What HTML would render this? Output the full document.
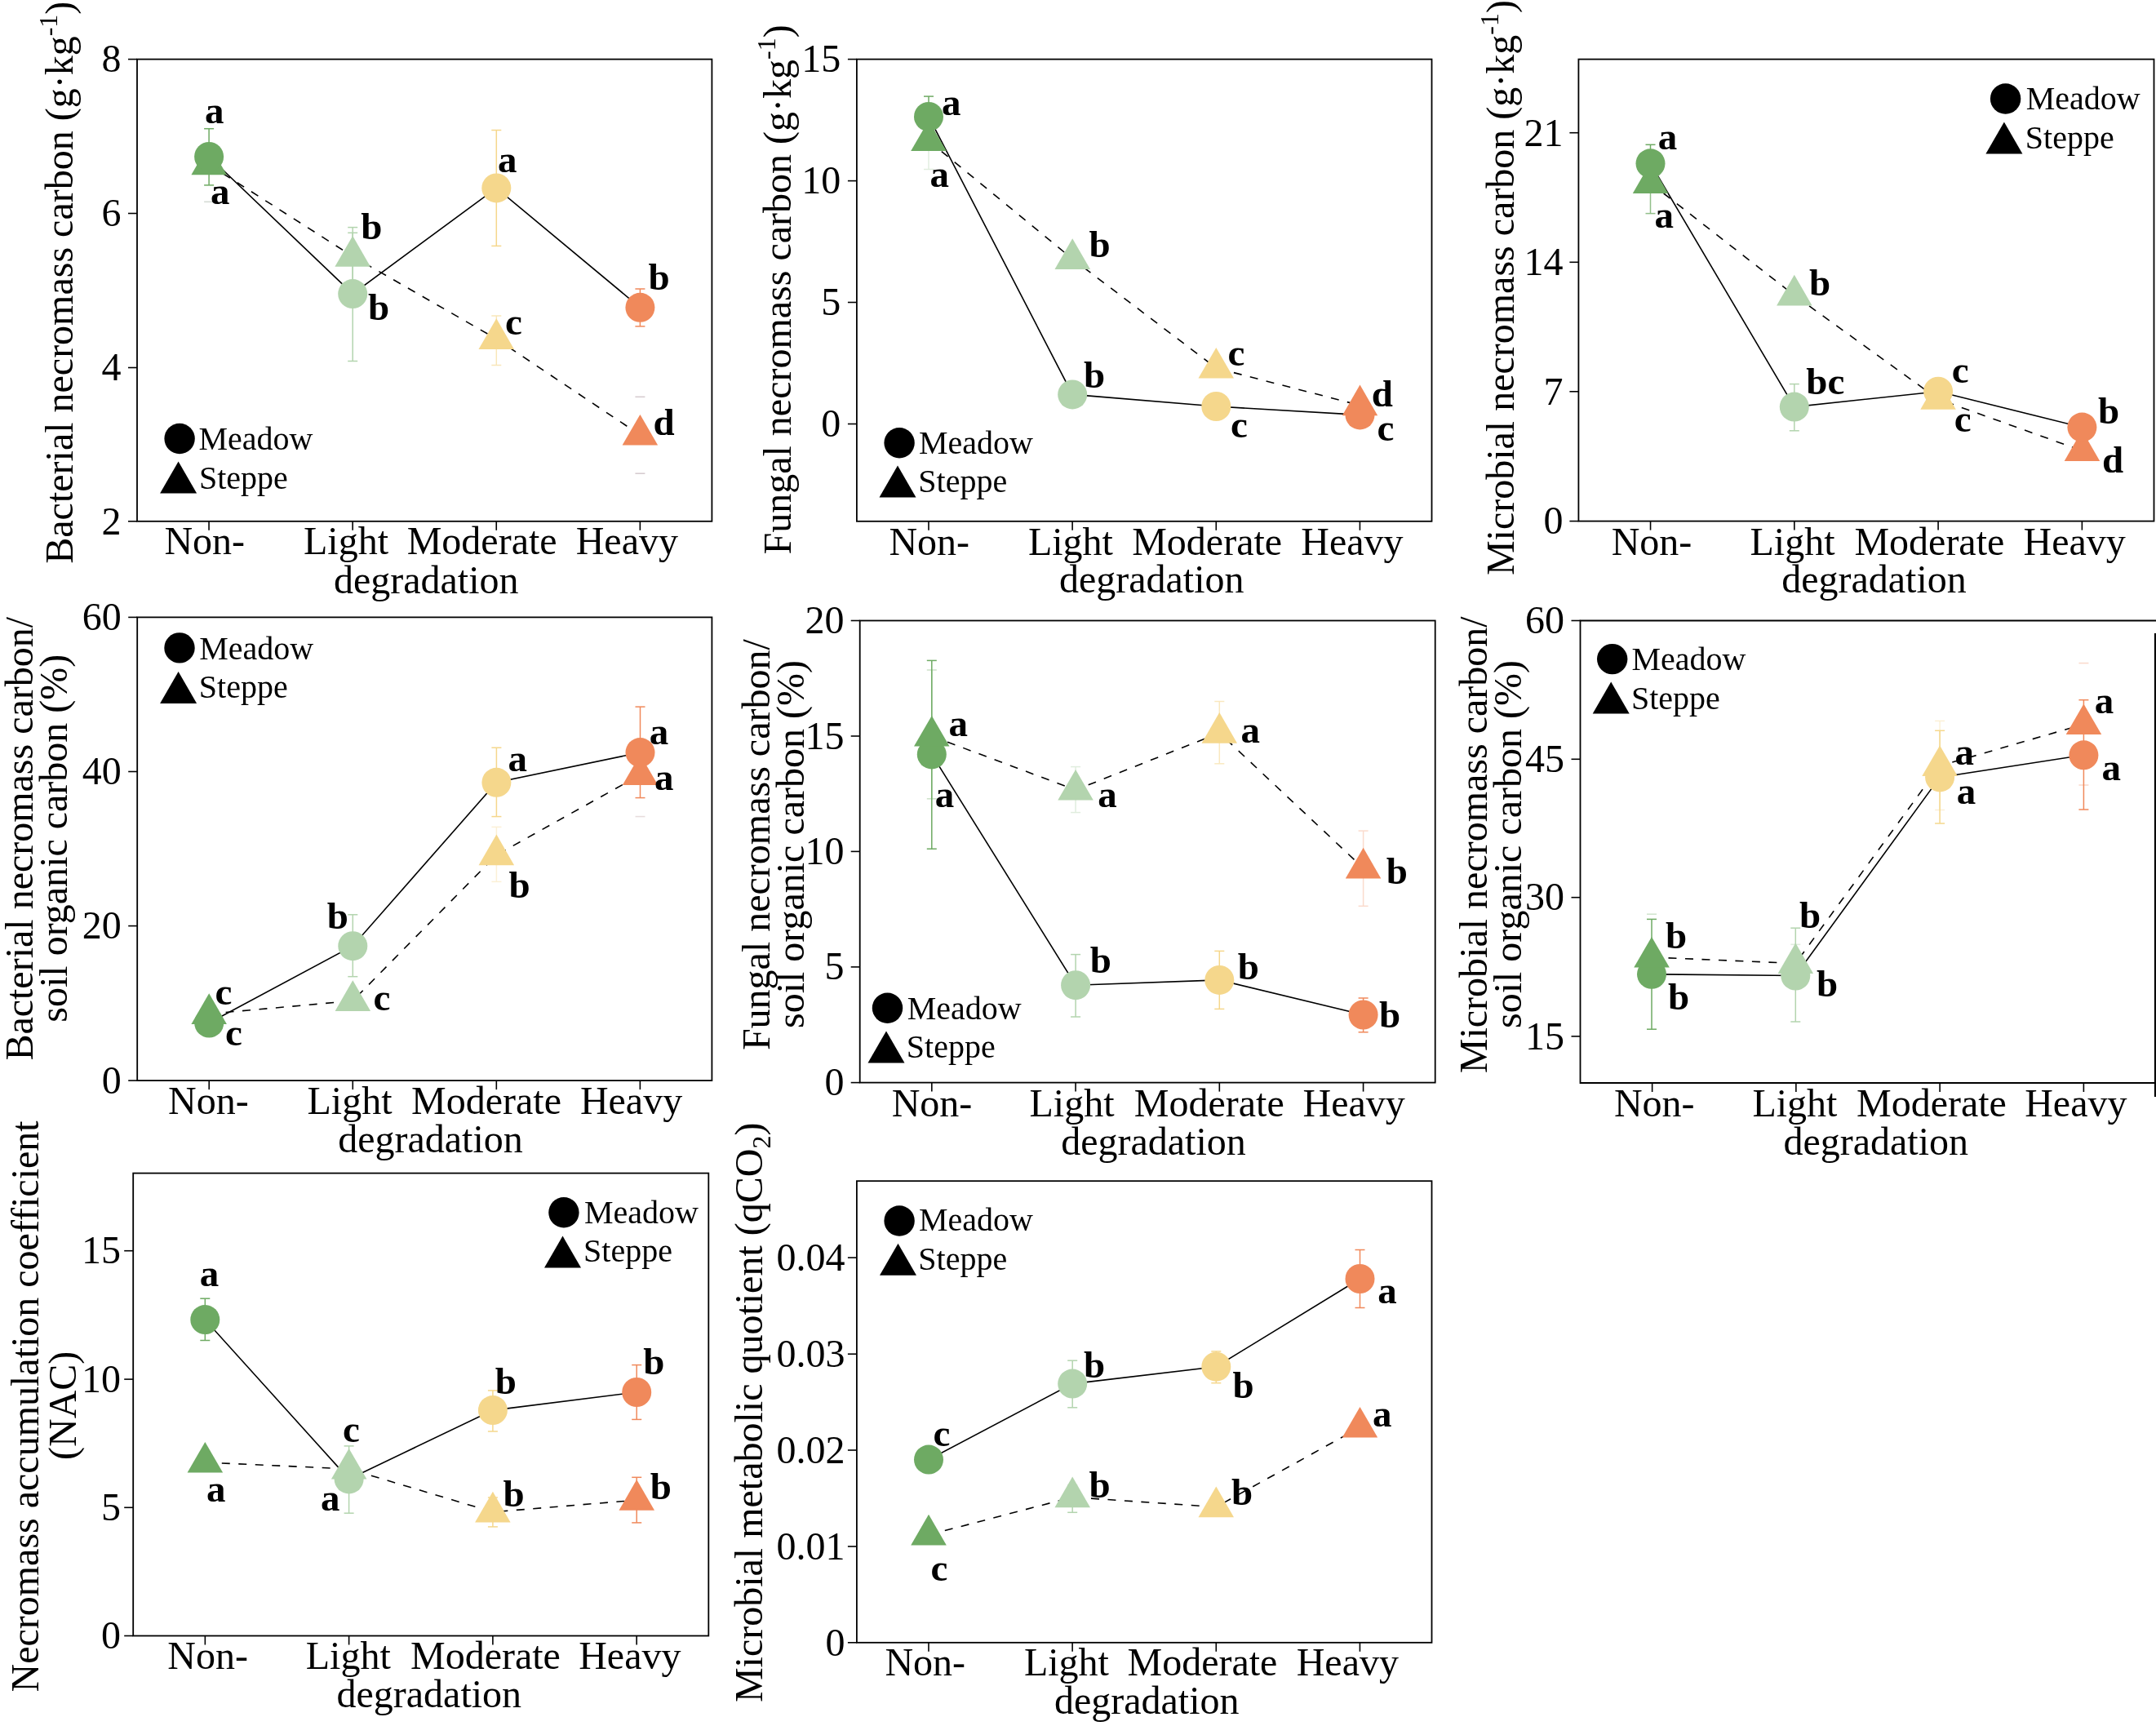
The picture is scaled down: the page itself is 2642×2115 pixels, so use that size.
<!DOCTYPE html>
<html><head><meta charset="utf-8"><style>
html,body{margin:0;padding:0;background:#fff;}
svg{display:block;will-change:transform;}
text{font-family:"Liberation Serif",serif;fill:#000;}
</style></head><body>
<svg width="2642" height="2115" viewBox="0 0 2642 2115">
<rect width="2642" height="2115" fill="#fff"/>
<rect x="168" y="72.6" width="704.4" height="566.1999999999999" fill="none" stroke="#000" stroke-width="1.8"/>
<line x1="157" y1="72.6" x2="168" y2="72.6" stroke="#000" stroke-width="1.6"/>
<text x="148.6" y="88.3" font-size="48" text-anchor="end">8</text>
<line x1="157" y1="261.5" x2="168" y2="261.5" stroke="#000" stroke-width="1.6"/>
<text x="148.6" y="277.2" font-size="48" text-anchor="end">6</text>
<line x1="157" y1="450.5" x2="168" y2="450.5" stroke="#000" stroke-width="1.6"/>
<text x="148.6" y="466.3" font-size="48" text-anchor="end">4</text>
<line x1="157" y1="638.8" x2="168" y2="638.8" stroke="#000" stroke-width="1.6"/>
<text x="148.6" y="654.7" font-size="48" text-anchor="end">2</text>
<line x1="256.05" y1="638.8" x2="256.05" y2="649.8" stroke="#000" stroke-width="1.6"/>
<line x1="432.15" y1="638.8" x2="432.15" y2="649.8" stroke="#000" stroke-width="1.6"/>
<line x1="608.25" y1="638.8" x2="608.25" y2="649.8" stroke="#000" stroke-width="1.6"/>
<line x1="784.35" y1="638.8" x2="784.35" y2="649.8" stroke="#000" stroke-width="1.6"/>
<text x="201.4" y="679.1" font-size="48">Non-</text>
<text x="372.0" y="679.1" font-size="48">Light</text>
<text x="498.7" y="679.1" font-size="48">Moderate</text>
<text x="705.7" y="679.1" font-size="48">Heavy</text>
<text x="408.9" y="726.5" font-size="48">degradation</text>
<text transform="translate(88.7,690.7) rotate(-90)" font-size="48">Bacterial necromass carbon (g·kg<tspan font-size="32" dy="-19">-1</tspan><tspan dy="19">)</tspan></text>
<g stroke="#6eaa63" stroke-width="1.5" opacity="1"><line x1="256.1" y1="157.7" x2="256.1" y2="226.9"/><line x1="250.10000000000002" y1="157.7" x2="262.1" y2="157.7"/><line x1="250.10000000000002" y1="226.9" x2="262.1" y2="226.9"/></g>
<g stroke="#b3d4ae" stroke-width="1.5" opacity="1"><line x1="432.2" y1="278.6" x2="432.2" y2="350"/><line x1="426.2" y1="278.6" x2="438.2" y2="278.6"/><line x1="426.2" y1="350" x2="438.2" y2="350"/></g>
<g stroke="#b3d4ae" stroke-width="1.5" opacity="1"><line x1="432.2" y1="285.3" x2="432.2" y2="442.5"/><line x1="426.2" y1="285.3" x2="438.2" y2="285.3"/><line x1="426.2" y1="442.5" x2="438.2" y2="442.5"/></g>
<g stroke="#f5d78c" stroke-width="1.5" opacity="0.6"><line x1="608.3" y1="387" x2="608.3" y2="447.5"/><line x1="602.3" y1="387" x2="614.3" y2="387"/><line x1="602.3" y1="447.5" x2="614.3" y2="447.5"/></g>
<g stroke="#f5d78c" stroke-width="1.5" opacity="1"><line x1="608.3" y1="159.5" x2="608.3" y2="301.4"/><line x1="602.3" y1="159.5" x2="614.3" y2="159.5"/><line x1="602.3" y1="301.4" x2="614.3" y2="301.4"/></g>
<g stroke="#f0895b" stroke-width="1.5" opacity="1"><line x1="784.4" y1="354" x2="784.4" y2="399.9"/><line x1="778.4" y1="354" x2="790.4" y2="354"/><line x1="778.4" y1="399.9" x2="790.4" y2="399.9"/></g>
<line x1="250.10000000000002" y1="247.3" x2="262.1" y2="247.3" stroke="#98a898" stroke-width="1.6" opacity="0.4"/>
<line x1="778.4" y1="486.3" x2="790.4" y2="486.3" stroke="#a89098" stroke-width="1.6" opacity="0.45"/>
<line x1="778.4" y1="580.2" x2="790.4" y2="580.2" stroke="#a89098" stroke-width="1.6" opacity="0.45"/>
<polyline points="256.1,201.7 432.2,314.1 608.3,415.3 784.4,533.0" fill="none" stroke="#000" stroke-width="1.6" stroke-dasharray="10 10.5"/>
<polyline points="256.1,192.0 432.2,360.1 608.3,230.4 784.4,376.8" fill="none" stroke="#000" stroke-width="1.6"/>
<polygon points="256.1,176.6 277.9,214.3 234.4,214.3" fill="#6eaa63"/>
<circle cx="256.1" cy="192.0" r="18" fill="#6eaa63"/>
<polygon points="432.2,289.0 453.9,326.7 410.4,326.7" fill="#b3d4ae"/>
<circle cx="432.2" cy="360.1" r="18" fill="#b3d4ae"/>
<polygon points="608.3,390.2 630.0,427.9 586.5,427.9" fill="#f5d78c"/>
<circle cx="608.3" cy="230.4" r="18" fill="#f5d78c"/>
<polygon points="784.4,507.9 806.1,545.6 762.6,545.6" fill="#f0895b"/>
<circle cx="784.4" cy="376.8" r="18" fill="#f0895b"/>
<text x="250.9" y="150.8" font-size="47" font-weight="bold">a</text>
<text x="258.1" y="249.8" font-size="47" font-weight="bold">a</text>
<text x="442.2" y="293.1" font-size="47" font-weight="bold">b</text>
<text x="451.1" y="391.5" font-size="47" font-weight="bold">b</text>
<text x="610.0" y="210.7" font-size="47" font-weight="bold">a</text>
<text x="619.1" y="410.3" font-size="47" font-weight="bold">c</text>
<text x="794.6" y="355.2" font-size="47" font-weight="bold">b</text>
<text x="800.4" y="533.2" font-size="47" font-weight="bold">d</text>
<circle cx="220.1" cy="537.5" r="18.7" fill="#000"/>
<polygon points="218.6,565.6 241.1,604.6 196.1,604.6" fill="#000"/>
<text x="243.4" y="551.0" font-size="40">Meadow</text>
<text x="243.9" y="598.9" font-size="40">Steppe</text>
<rect x="1049.9" y="72.6" width="704.5999999999999" height="566.1999999999999" fill="none" stroke="#000" stroke-width="1.8"/>
<line x1="1038.9" y1="72.6" x2="1049.9" y2="72.6" stroke="#000" stroke-width="1.6"/>
<text x="1030.2" y="88.2" font-size="48" text-anchor="end">15</text>
<line x1="1038.9" y1="221.6" x2="1049.9" y2="221.6" stroke="#000" stroke-width="1.6"/>
<text x="1030.2" y="237.3" font-size="48" text-anchor="end">10</text>
<line x1="1038.9" y1="370.5" x2="1049.9" y2="370.5" stroke="#000" stroke-width="1.6"/>
<text x="1030.2" y="386.0" font-size="48" text-anchor="end">5</text>
<line x1="1038.9" y1="519.5" x2="1049.9" y2="519.5" stroke="#000" stroke-width="1.6"/>
<text x="1030.2" y="535.2" font-size="48" text-anchor="end">0</text>
<line x1="1137.9750000000001" y1="638.8" x2="1137.9750000000001" y2="649.8" stroke="#000" stroke-width="1.6"/>
<line x1="1314.125" y1="638.8" x2="1314.125" y2="649.8" stroke="#000" stroke-width="1.6"/>
<line x1="1490.275" y1="638.8" x2="1490.275" y2="649.8" stroke="#000" stroke-width="1.6"/>
<line x1="1666.425" y1="638.8" x2="1666.425" y2="649.8" stroke="#000" stroke-width="1.6"/>
<text x="1089.4" y="679.6" font-size="48">Non-</text>
<text x="1259.9" y="679.6" font-size="48">Light</text>
<text x="1387.2" y="679.6" font-size="48">Moderate</text>
<text x="1594.3" y="679.6" font-size="48">Heavy</text>
<text x="1297.9" y="726.2" font-size="48">degradation</text>
<text transform="translate(969.4,679.5) rotate(-90)" font-size="48">Fungal necromass carbon (g·kg<tspan font-size="32" dy="-19">-1</tspan><tspan dy="19">)</tspan></text>
<g stroke="#6eaa63" stroke-width="1.5" opacity="0.2"><line x1="1138" y1="135" x2="1138" y2="207.5"/><line x1="1132" y1="135" x2="1144" y2="135"/><line x1="1132" y1="207.5" x2="1144" y2="207.5"/></g>
<g stroke="#6eaa63" stroke-width="1.5" opacity="1"><line x1="1138" y1="118.1" x2="1138" y2="165.7"/><line x1="1132" y1="118.1" x2="1144" y2="118.1"/><line x1="1132" y1="165.7" x2="1144" y2="165.7"/></g>
<polyline points="1138.0,172.5 1314.2,317.3 1490.3,451.0 1666.5,496.7" fill="none" stroke="#000" stroke-width="1.6" stroke-dasharray="10 10.5"/>
<polyline points="1138.0,142.9 1314.2,483.4 1490.3,498.0 1666.5,508.4" fill="none" stroke="#000" stroke-width="1.6"/>
<polygon points="1138.0,147.4 1159.8,185.1 1116.2,185.1" fill="#6eaa63"/>
<circle cx="1138" cy="142.9" r="18" fill="#6eaa63"/>
<polygon points="1314.2,292.2 1336.0,329.9 1292.5,329.9" fill="#b3d4ae"/>
<circle cx="1314.2" cy="483.4" r="18" fill="#b3d4ae"/>
<polygon points="1490.3,425.9 1512.0,463.6 1468.5,463.6" fill="#f5d78c"/>
<circle cx="1490.3" cy="498" r="18" fill="#f5d78c"/>
<polygon points="1666.5,471.6 1688.2,509.3 1644.8,509.3" fill="#f0895b"/>
<circle cx="1666.5" cy="508.4" r="18" fill="#f0895b"/>
<text x="1154.0" y="141.0" font-size="47" font-weight="bold">a</text>
<text x="1139.4" y="228.7" font-size="47" font-weight="bold">a</text>
<text x="1334.4" y="315.1" font-size="47" font-weight="bold">b</text>
<text x="1328.1" y="475.0" font-size="47" font-weight="bold">b</text>
<text x="1504.6" y="447.9" font-size="47" font-weight="bold">c</text>
<text x="1507.9" y="535.5" font-size="47" font-weight="bold">c</text>
<text x="1680.8" y="497.9" font-size="47" font-weight="bold">d</text>
<text x="1687.4" y="539.7" font-size="47" font-weight="bold">c</text>
<circle cx="1102.1" cy="542.7" r="18.7" fill="#000"/>
<polygon points="1100.0,570.5 1122.5,609.5 1077.5,609.5" fill="#000"/>
<text x="1125.9" y="556.4" font-size="40">Meadow</text>
<text x="1125.3" y="603.2" font-size="40">Steppe</text>
<rect x="1934.4" y="72.6" width="705.0999999999999" height="566.0" fill="none" stroke="#000" stroke-width="1.8"/>
<line x1="1923.4" y1="162.7" x2="1934.4" y2="162.7" stroke="#000" stroke-width="1.6"/>
<text x="1915.6" y="178.6" font-size="48" text-anchor="end">21</text>
<line x1="1923.4" y1="321.3" x2="1934.4" y2="321.3" stroke="#000" stroke-width="1.6"/>
<text x="1915.6" y="337.1" font-size="48" text-anchor="end">14</text>
<line x1="1923.4" y1="479.8" x2="1934.4" y2="479.8" stroke="#000" stroke-width="1.6"/>
<text x="1915.6" y="495.5" font-size="48" text-anchor="end">7</text>
<line x1="1923.4" y1="638.6" x2="1934.4" y2="638.6" stroke="#000" stroke-width="1.6"/>
<text x="1915.6" y="654.3" font-size="48" text-anchor="end">0</text>
<line x1="2022.5375000000001" y1="638.6" x2="2022.5375000000001" y2="649.6" stroke="#000" stroke-width="1.6"/>
<line x1="2198.8125" y1="638.6" x2="2198.8125" y2="649.6" stroke="#000" stroke-width="1.6"/>
<line x1="2375.0875" y1="638.6" x2="2375.0875" y2="649.6" stroke="#000" stroke-width="1.6"/>
<line x1="2551.3625" y1="638.6" x2="2551.3625" y2="649.6" stroke="#000" stroke-width="1.6"/>
<text x="1974.7" y="679.6" font-size="48">Non-</text>
<text x="2144.5" y="679.6" font-size="48">Light</text>
<text x="2272.4" y="679.6" font-size="48">Moderate</text>
<text x="2479.6" y="679.6" font-size="48">Heavy</text>
<text x="2183.2" y="726.2" font-size="48">degradation</text>
<text transform="translate(1855.2,705.1) rotate(-90)" font-size="48">Microbial necromass carbon (g·kg<tspan font-size="32" dy="-19">-1</tspan><tspan dy="19">)</tspan></text>
<g stroke="#6eaa63" stroke-width="1.5" opacity="0.75"><line x1="2022.5" y1="190" x2="2022.5" y2="261.6"/><line x1="2016.5" y1="190" x2="2028.5" y2="190"/><line x1="2016.5" y1="261.6" x2="2028.5" y2="261.6"/></g>
<g stroke="#6eaa63" stroke-width="1.5" opacity="1"><line x1="2022.5" y1="177.3" x2="2022.5" y2="223"/><line x1="2016.5" y1="177.3" x2="2028.5" y2="177.3"/><line x1="2016.5" y1="223" x2="2028.5" y2="223"/></g>
<g stroke="#b3d4ae" stroke-width="1.5" opacity="1"><line x1="2198.8" y1="470.6" x2="2198.8" y2="527.8"/><line x1="2192.8" y1="470.6" x2="2204.8" y2="470.6"/><line x1="2192.8" y1="527.8" x2="2204.8" y2="527.8"/></g>
<polyline points="2022.5,224.4 2198.8,361.8 2375.1,489.1 2551.4,552.3" fill="none" stroke="#000" stroke-width="1.6" stroke-dasharray="10 10.5"/>
<polyline points="2022.5,200.3 2198.8,498.6 2375.1,479.7 2551.4,523.6" fill="none" stroke="#000" stroke-width="1.6"/>
<polygon points="2022.5,199.3 2044.2,237.0 2000.8,237.0" fill="#6eaa63"/>
<circle cx="2022.5" cy="200.3" r="18" fill="#6eaa63"/>
<polygon points="2198.8,336.7 2220.6,374.4 2177.1,374.4" fill="#b3d4ae"/>
<circle cx="2198.8" cy="498.6" r="18" fill="#b3d4ae"/>
<polygon points="2375.1,464.0 2396.8,501.7 2353.3,501.7" fill="#f5d78c"/>
<circle cx="2375.1" cy="479.7" r="18" fill="#f5d78c"/>
<polygon points="2551.4,527.2 2573.2,564.9 2529.7,564.9" fill="#f0895b"/>
<circle cx="2551.4" cy="523.6" r="18" fill="#f0895b"/>
<text x="2031.8" y="182.7" font-size="47" font-weight="bold">a</text>
<text x="2027.6" y="278.7" font-size="47" font-weight="bold">a</text>
<text x="2217.1" y="362.1" font-size="47" font-weight="bold">b</text>
<text x="2213.3" y="483.1" font-size="47" font-weight="bold">bc</text>
<text x="2391.7" y="468.5" font-size="47" font-weight="bold">c</text>
<text x="2394.7" y="529.0" font-size="47" font-weight="bold">c</text>
<text x="2570.9" y="519.4" font-size="47" font-weight="bold">b</text>
<text x="2575.9" y="579.1" font-size="47" font-weight="bold">d</text>
<circle cx="2457.6" cy="121" r="18.7" fill="#000"/>
<polygon points="2455.9,149.6 2478.4,188.6 2433.4,188.6" fill="#000"/>
<text x="2482.7" y="134.3" font-size="40">Meadow</text>
<text x="2481.8" y="181.5" font-size="40">Steppe</text>
<rect x="168.2" y="756.4" width="704.2" height="567.6999999999999" fill="none" stroke="#000" stroke-width="1.8"/>
<line x1="157.2" y1="756.4" x2="168.2" y2="756.4" stroke="#000" stroke-width="1.6"/>
<text x="148.8" y="772.1" font-size="48" text-anchor="end">60</text>
<line x1="157.2" y1="945.5" x2="168.2" y2="945.5" stroke="#000" stroke-width="1.6"/>
<text x="148.8" y="961.2" font-size="48" text-anchor="end">40</text>
<line x1="157.2" y1="1134.6" x2="168.2" y2="1134.6" stroke="#000" stroke-width="1.6"/>
<text x="148.8" y="1150.3" font-size="48" text-anchor="end">20</text>
<line x1="157.2" y1="1324.1" x2="168.2" y2="1324.1" stroke="#000" stroke-width="1.6"/>
<text x="148.8" y="1339.8" font-size="48" text-anchor="end">0</text>
<line x1="256.225" y1="1324.1" x2="256.225" y2="1335.1" stroke="#000" stroke-width="1.6"/>
<line x1="432.27500000000003" y1="1324.1" x2="432.27500000000003" y2="1335.1" stroke="#000" stroke-width="1.6"/>
<line x1="608.325" y1="1324.1" x2="608.325" y2="1335.1" stroke="#000" stroke-width="1.6"/>
<line x1="784.375" y1="1324.1" x2="784.375" y2="1335.1" stroke="#000" stroke-width="1.6"/>
<text x="206.1" y="1364.6" font-size="48">Non-</text>
<text x="376.5" y="1364.6" font-size="48">Light</text>
<text x="504.1" y="1364.6" font-size="48">Moderate</text>
<text x="710.9" y="1364.6" font-size="48">Heavy</text>
<text x="414.2" y="1412.0" font-size="48">degradation</text>
<text transform="translate(39.8,1299.6) rotate(-90)" font-size="48">Bacterial necromass carbon/</text>
<text transform="translate(82.4,1252.7) rotate(-90)" font-size="48">soil organic carbon (%)</text>
<g stroke="#b3d4ae" stroke-width="1.5" opacity="1"><line x1="432.3" y1="1120.8" x2="432.3" y2="1196.7"/><line x1="426.3" y1="1120.8" x2="438.3" y2="1120.8"/><line x1="426.3" y1="1196.7" x2="438.3" y2="1196.7"/></g>
<g stroke="#f5d78c" stroke-width="1.5" opacity="0.35"><line x1="608.4" y1="1013.4" x2="608.4" y2="1080.4"/><line x1="602.4" y1="1013.4" x2="614.4" y2="1013.4"/><line x1="602.4" y1="1080.4" x2="614.4" y2="1080.4"/></g>
<g stroke="#f5d78c" stroke-width="1.5" opacity="1"><line x1="608.4" y1="916.2" x2="608.4" y2="1000.6"/><line x1="602.4" y1="916.2" x2="614.4" y2="916.2"/><line x1="602.4" y1="1000.6" x2="614.4" y2="1000.6"/></g>
<g stroke="#f0895b" stroke-width="1.5" opacity="1"><line x1="784.5" y1="866.1" x2="784.5" y2="977.6"/><line x1="778.5" y1="866.1" x2="790.5" y2="866.1"/><line x1="778.5" y1="977.6" x2="790.5" y2="977.6"/></g>
<line x1="778.5" y1="1000.6" x2="790.5" y2="1000.6" stroke="#c0a0a0" stroke-width="1.6" opacity="0.35"/>
<polyline points="256.2,1242.3 432.3,1226.4 608.4,1047.7 784.5,949.5" fill="none" stroke="#000" stroke-width="1.6" stroke-dasharray="10 10.5"/>
<polyline points="256.2,1253.5 432.3,1159.2 608.4,958.8 784.5,922.1" fill="none" stroke="#000" stroke-width="1.6"/>
<circle cx="256.2" cy="1253.5" r="18" fill="#6eaa63"/>
<polygon points="256.2,1217.2 277.9,1254.9 234.4,1254.9" fill="#6eaa63"/>
<polygon points="432.3,1201.3 454.1,1239.0 410.6,1239.0" fill="#b3d4ae"/>
<circle cx="432.3" cy="1159.2" r="18" fill="#b3d4ae"/>
<polygon points="608.4,1022.6 630.1,1060.3 586.6,1060.3" fill="#f5d78c"/>
<circle cx="608.4" cy="958.8" r="18" fill="#f5d78c"/>
<polygon points="784.5,924.4 806.2,962.1 762.8,962.1" fill="#f0895b"/>
<circle cx="784.5" cy="922.1" r="18" fill="#f0895b"/>
<text x="263.5" y="1231.3" font-size="47" font-weight="bold">c</text>
<text x="276.0" y="1281.4" font-size="47" font-weight="bold">c</text>
<text x="400.7" y="1137.6" font-size="47" font-weight="bold">b</text>
<text x="457.6" y="1237.6" font-size="47" font-weight="bold">c</text>
<text x="622.6" y="945.4" font-size="47" font-weight="bold">a</text>
<text x="623.5" y="1099.8" font-size="47" font-weight="bold">b</text>
<text x="795.8" y="912.0" font-size="47" font-weight="bold">a</text>
<text x="802.1" y="967.5" font-size="47" font-weight="bold">a</text>
<circle cx="220" cy="793.9" r="18.7" fill="#000"/>
<polygon points="218.6,823.0 241.1,862.0 196.1,862.0" fill="#000"/>
<text x="244.3" y="807.7" font-size="40">Meadow</text>
<text x="243.8" y="855.3" font-size="40">Steppe</text>
<rect x="1053.7" y="760.5" width="705.0" height="566.0999999999999" fill="none" stroke="#000" stroke-width="1.8"/>
<line x1="1042.7" y1="760.5" x2="1053.7" y2="760.5" stroke="#000" stroke-width="1.6"/>
<text x="1034.5" y="776.2" font-size="48" text-anchor="end">20</text>
<line x1="1042.7" y1="902" x2="1053.7" y2="902" stroke="#000" stroke-width="1.6"/>
<text x="1034.5" y="917.6" font-size="48" text-anchor="end">15</text>
<line x1="1042.7" y1="1043.4" x2="1053.7" y2="1043.4" stroke="#000" stroke-width="1.6"/>
<text x="1034.5" y="1059.1" font-size="48" text-anchor="end">10</text>
<line x1="1042.7" y1="1184.9" x2="1053.7" y2="1184.9" stroke="#000" stroke-width="1.6"/>
<text x="1034.5" y="1200.4" font-size="48" text-anchor="end">5</text>
<line x1="1042.7" y1="1326.6" x2="1053.7" y2="1326.6" stroke="#000" stroke-width="1.6"/>
<text x="1034.5" y="1342.3" font-size="48" text-anchor="end">0</text>
<line x1="1141.825" y1="1326.6" x2="1141.825" y2="1337.6" stroke="#000" stroke-width="1.6"/>
<line x1="1318.075" y1="1326.6" x2="1318.075" y2="1337.6" stroke="#000" stroke-width="1.6"/>
<line x1="1494.325" y1="1326.6" x2="1494.325" y2="1337.6" stroke="#000" stroke-width="1.6"/>
<line x1="1670.575" y1="1326.6" x2="1670.575" y2="1337.6" stroke="#000" stroke-width="1.6"/>
<text x="1092.7" y="1368.2" font-size="48">Non-</text>
<text x="1261.5" y="1368.2" font-size="48">Light</text>
<text x="1389.8" y="1368.2" font-size="48">Moderate</text>
<text x="1596.6" y="1368.2" font-size="48">Heavy</text>
<text x="1300.2" y="1415.3" font-size="48">degradation</text>
<text transform="translate(942.8,1287.1) rotate(-90)" font-size="48">Fungal necromass carbon/</text>
<text transform="translate(985,1260) rotate(-90)" font-size="48">soil organic carbon (%)</text>
<g stroke="#6eaa63" stroke-width="1.5" opacity="1"><line x1="1141.8" y1="809.4" x2="1141.8" y2="1040.2"/><line x1="1135.8" y1="809.4" x2="1147.8" y2="809.4"/><line x1="1135.8" y1="1040.2" x2="1147.8" y2="1040.2"/></g>
<g stroke="#6eaa63" stroke-width="1.5" opacity="0.35"><line x1="1141.8" y1="821" x2="1141.8" y2="978.8"/><line x1="1135.8" y1="821" x2="1147.8" y2="821"/><line x1="1135.8" y1="978.8" x2="1147.8" y2="978.8"/></g>
<g stroke="#b3d4ae" stroke-width="1.5" opacity="0.4"><line x1="1318.1" y1="939.6" x2="1318.1" y2="995.6"/><line x1="1312.1" y1="939.6" x2="1324.1" y2="939.6"/><line x1="1312.1" y1="995.6" x2="1324.1" y2="995.6"/></g>
<g stroke="#b3d4ae" stroke-width="1.5" opacity="1"><line x1="1318.1" y1="1169.6" x2="1318.1" y2="1246"/><line x1="1312.1" y1="1169.6" x2="1324.1" y2="1169.6"/><line x1="1312.1" y1="1246" x2="1324.1" y2="1246"/></g>
<g stroke="#f5d78c" stroke-width="1.5" opacity="0.55"><line x1="1494.3" y1="859.5" x2="1494.3" y2="935.8"/><line x1="1488.3" y1="859.5" x2="1500.3" y2="859.5"/><line x1="1488.3" y1="935.8" x2="1500.3" y2="935.8"/></g>
<g stroke="#f5d78c" stroke-width="1.5" opacity="1"><line x1="1494.3" y1="1165.4" x2="1494.3" y2="1236.4"/><line x1="1488.3" y1="1165.4" x2="1500.3" y2="1165.4"/><line x1="1488.3" y1="1236.4" x2="1500.3" y2="1236.4"/></g>
<g stroke="#f0895b" stroke-width="1.5" opacity="0.3"><line x1="1670.6" y1="1018.1" x2="1670.6" y2="1110.3"/><line x1="1664.6" y1="1018.1" x2="1676.6" y2="1018.1"/><line x1="1664.6" y1="1110.3" x2="1676.6" y2="1110.3"/></g>
<g stroke="#f0895b" stroke-width="1.5" opacity="1"><line x1="1670.6" y1="1223" x2="1670.6" y2="1264.8"/><line x1="1664.6" y1="1223" x2="1676.6" y2="1223"/><line x1="1664.6" y1="1264.8" x2="1676.6" y2="1264.8"/></g>
<polyline points="1141.8,902.0 1318.1,968.0 1494.3,898.1 1670.6,1063.8" fill="none" stroke="#000" stroke-width="1.6" stroke-dasharray="10 10.5"/>
<polyline points="1141.8,924.4 1318.1,1207.2 1494.3,1200.9 1670.6,1243.5" fill="none" stroke="#000" stroke-width="1.6"/>
<circle cx="1141.8" cy="924.4" r="18" fill="#6eaa63"/>
<polygon points="1141.8,876.9 1163.5,914.6 1120.0,914.6" fill="#6eaa63"/>
<polygon points="1318.1,942.9 1339.8,980.6 1296.3,980.6" fill="#b3d4ae"/>
<circle cx="1318.1" cy="1207.2" r="18" fill="#b3d4ae"/>
<polygon points="1494.3,873.0 1516.0,910.7 1472.5,910.7" fill="#f5d78c"/>
<circle cx="1494.3" cy="1200.9" r="18" fill="#f5d78c"/>
<polygon points="1670.6,1038.7 1692.3,1076.4 1648.8,1076.4" fill="#f0895b"/>
<circle cx="1670.6" cy="1243.5" r="18" fill="#f0895b"/>
<text x="1162.4" y="901.6" font-size="47" font-weight="bold">a</text>
<text x="1145.7" y="989.2" font-size="47" font-weight="bold">a</text>
<text x="1345.2" y="989.2" font-size="47" font-weight="bold">a</text>
<text x="1520.5" y="909.9" font-size="47" font-weight="bold">a</text>
<text x="1698.8" y="1083.2" font-size="47" font-weight="bold">b</text>
<text x="1335.7" y="1191.7" font-size="47" font-weight="bold">b</text>
<text x="1516.8" y="1200.0" font-size="47" font-weight="bold">b</text>
<text x="1690.1" y="1259.3" font-size="47" font-weight="bold">b</text>
<circle cx="1087.5" cy="1235.2" r="18.7" fill="#000"/>
<polygon points="1086.0,1263.4 1108.5,1302.4 1063.5,1302.4" fill="#000"/>
<text x="1111.7" y="1248.9" font-size="40">Meadow</text>
<text x="1110.8" y="1295.7" font-size="40">Steppe</text>
<polyline points="2643.5,760.5 1936.5,760.5 1936.5,1327 2643.5,1327" fill="none" stroke="#000" stroke-width="1.8"/>
<line x1="2641.0" y1="776" x2="2641.0" y2="1344" stroke="#000" stroke-width="2.2"/>
<line x1="1925.5" y1="760.5" x2="1936.5" y2="760.5" stroke="#000" stroke-width="1.6"/>
<text x="1917.0" y="776.2" font-size="48" text-anchor="end">60</text>
<line x1="1925.5" y1="930.3" x2="1936.5" y2="930.3" stroke="#000" stroke-width="1.6"/>
<text x="1917.0" y="945.9" font-size="48" text-anchor="end">45</text>
<line x1="1925.5" y1="1099.7" x2="1936.5" y2="1099.7" stroke="#000" stroke-width="1.6"/>
<text x="1917.0" y="1115.4" font-size="48" text-anchor="end">30</text>
<line x1="1925.5" y1="1269.9" x2="1936.5" y2="1269.9" stroke="#000" stroke-width="1.6"/>
<text x="1917.0" y="1285.5" font-size="48" text-anchor="end">15</text>
<line x1="2024.625" y1="1327" x2="2024.625" y2="1338" stroke="#000" stroke-width="1.6"/>
<line x1="2200.875" y1="1327" x2="2200.875" y2="1338" stroke="#000" stroke-width="1.6"/>
<line x1="2377.125" y1="1327" x2="2377.125" y2="1338" stroke="#000" stroke-width="1.6"/>
<line x1="2553.375" y1="1327" x2="2553.375" y2="1338" stroke="#000" stroke-width="1.6"/>
<text x="1977.9" y="1368.2" font-size="48">Non-</text>
<text x="2147.4" y="1368.2" font-size="48">Light</text>
<text x="2275.0" y="1368.2" font-size="48">Moderate</text>
<text x="2481.2" y="1368.2" font-size="48">Heavy</text>
<text x="2185.4" y="1415.3" font-size="48">degradation</text>
<text transform="translate(1822.2,1315.2) rotate(-90)" font-size="48">Microbial necromass carbon/</text>
<text transform="translate(1864.3,1260) rotate(-90)" font-size="48">soil organic carbon (%)</text>
<g stroke="#6eaa63" stroke-width="1.5" opacity="1"><line x1="2024" y1="1126.4" x2="2024" y2="1261.2"/><line x1="2018" y1="1126.4" x2="2030" y2="1126.4"/><line x1="2018" y1="1261.2" x2="2030" y2="1261.2"/></g>
<g stroke="#b3d4ae" stroke-width="1.5" opacity="1"><line x1="2200.3" y1="1137.2" x2="2200.3" y2="1252"/><line x1="2194.3" y1="1137.2" x2="2206.3" y2="1137.2"/><line x1="2194.3" y1="1252" x2="2206.3" y2="1252"/></g>
<g stroke="#f5d78c" stroke-width="1.5" opacity="1"><line x1="2377.1" y1="895.3" x2="2377.1" y2="1009"/><line x1="2371.1" y1="895.3" x2="2383.1" y2="895.3"/><line x1="2371.1" y1="1009" x2="2383.1" y2="1009"/></g>
<g stroke="#f5d78c" stroke-width="1.5" opacity="0.35"><line x1="2377.1" y1="883.4" x2="2377.1" y2="992.5"/><line x1="2371.1" y1="883.4" x2="2383.1" y2="883.4"/><line x1="2371.1" y1="992.5" x2="2383.1" y2="992.5"/></g>
<g stroke="#f0895b" stroke-width="1.5" opacity="1"><line x1="2553.4" y1="857.7" x2="2553.4" y2="992"/><line x1="2547.4" y1="857.7" x2="2559.4" y2="857.7"/><line x1="2547.4" y1="992" x2="2559.4" y2="992"/></g>
<line x1="2018" y1="1120.2" x2="2030" y2="1120.2" stroke="#6eaa63" stroke-width="1.6" opacity="0.3"/>
<line x1="2194.3" y1="1157.3" x2="2206.3" y2="1157.3" stroke="#b3d4ae" stroke-width="1.6" opacity="0.4"/>
<line x1="2547.4" y1="812.6" x2="2559.4" y2="812.6" stroke="#f0895b" stroke-width="1.6" opacity="0.3"/>
<line x1="2547.4" y1="962" x2="2559.4" y2="962" stroke="#f0895b" stroke-width="1.6" opacity="0.3"/>
<polyline points="2024.0,1173.0 2200.3,1180.5 2377.1,938.5 2553.4,887.5" fill="none" stroke="#000" stroke-width="1.6" stroke-dasharray="10 10.5"/>
<polyline points="2024.0,1193.8 2200.3,1195.5 2377.1,952.4 2553.4,925.3" fill="none" stroke="#000" stroke-width="1.6"/>
<circle cx="2024" cy="1193.8" r="18" fill="#6eaa63"/>
<polygon points="2024.0,1147.9 2045.8,1185.6 2002.2,1185.6" fill="#6eaa63"/>
<circle cx="2200.3" cy="1195.5" r="18" fill="#b3d4ae"/>
<polygon points="2200.3,1155.4 2222.1,1193.1 2178.6,1193.1" fill="#b3d4ae"/>
<circle cx="2377.1" cy="952.4" r="18" fill="#f5d78c"/>
<polygon points="2377.1,913.4 2398.8,951.1 2355.3,951.1" fill="#f5d78c"/>
<circle cx="2553.4" cy="925.3" r="18" fill="#f0895b"/>
<polygon points="2553.4,862.4 2575.2,900.1 2531.7,900.1" fill="#f0895b"/>
<text x="2041.0" y="1162.2" font-size="47" font-weight="bold">b</text>
<text x="2043.9" y="1237.3" font-size="47" font-weight="bold">b</text>
<text x="2205.0" y="1137.2" font-size="47" font-weight="bold">b</text>
<text x="2225.9" y="1220.6" font-size="47" font-weight="bold">b</text>
<text x="2395.6" y="936.9" font-size="47" font-weight="bold">a</text>
<text x="2397.7" y="984.9" font-size="47" font-weight="bold">a</text>
<text x="2566.7" y="874.3" font-size="47" font-weight="bold">a</text>
<text x="2575.4" y="955.7" font-size="47" font-weight="bold">a</text>
<circle cx="1975.7" cy="807.6" r="18.7" fill="#000"/>
<polygon points="1974.2,835.4 1996.7,874.4 1951.7,874.4" fill="#000"/>
<text x="1999.5" y="821.0" font-size="40">Meadow</text>
<text x="1998.9" y="869.0" font-size="40">Steppe</text>
<rect x="163.2" y="1437.6" width="705.0999999999999" height="566.9000000000001" fill="none" stroke="#000" stroke-width="1.8"/>
<line x1="152.2" y1="1532.7" x2="163.2" y2="1532.7" stroke="#000" stroke-width="1.6"/>
<text x="147.9" y="1548.3" font-size="48" text-anchor="end">15</text>
<line x1="152.2" y1="1690.1" x2="163.2" y2="1690.1" stroke="#000" stroke-width="1.6"/>
<text x="147.9" y="1705.8" font-size="48" text-anchor="end">10</text>
<line x1="152.2" y1="1847.3" x2="163.2" y2="1847.3" stroke="#000" stroke-width="1.6"/>
<text x="147.9" y="1862.8" font-size="48" text-anchor="end">5</text>
<line x1="152.2" y1="2004.5" x2="163.2" y2="2004.5" stroke="#000" stroke-width="1.6"/>
<text x="147.9" y="2020.2" font-size="48" text-anchor="end">0</text>
<line x1="251.33749999999998" y1="2004.5" x2="251.33749999999998" y2="2015.5" stroke="#000" stroke-width="1.6"/>
<line x1="427.61249999999995" y1="2004.5" x2="427.61249999999995" y2="2015.5" stroke="#000" stroke-width="1.6"/>
<line x1="603.8874999999999" y1="2004.5" x2="603.8874999999999" y2="2015.5" stroke="#000" stroke-width="1.6"/>
<line x1="780.1624999999999" y1="2004.5" x2="780.1624999999999" y2="2015.5" stroke="#000" stroke-width="1.6"/>
<text x="205.3" y="2044.6" font-size="48">Non-</text>
<text x="374.8" y="2044.6" font-size="48">Light</text>
<text x="503.0" y="2044.6" font-size="48">Moderate</text>
<text x="709.2" y="2044.6" font-size="48">Heavy</text>
<text x="412.5" y="2092.0" font-size="48">degradation</text>
<text transform="translate(47.3,2073.5) rotate(-90)" font-size="48">Necromass accumulation coefficient</text>
<text transform="translate(92.8,1789) rotate(-90)" font-size="48">(NAC)</text>
<g stroke="#6eaa63" stroke-width="1.5" opacity="1"><line x1="251.3" y1="1591.2" x2="251.3" y2="1642.5"/><line x1="245.3" y1="1591.2" x2="257.3" y2="1591.2"/><line x1="245.3" y1="1642.5" x2="257.3" y2="1642.5"/></g>
<g stroke="#b3d4ae" stroke-width="1.5" opacity="1"><line x1="427.6" y1="1771.9" x2="427.6" y2="1854.2"/><line x1="421.6" y1="1771.9" x2="433.6" y2="1771.9"/><line x1="421.6" y1="1854.2" x2="433.6" y2="1854.2"/></g>
<g stroke="#f5d78c" stroke-width="1.5" opacity="1"><line x1="603.9" y1="1703.9" x2="603.9" y2="1754"/><line x1="597.9" y1="1703.9" x2="609.9" y2="1703.9"/><line x1="597.9" y1="1754" x2="609.9" y2="1754"/></g>
<g stroke="#f5d78c" stroke-width="1.5" opacity="1"><line x1="603.9" y1="1835" x2="603.9" y2="1870.9"/><line x1="597.9" y1="1835" x2="609.9" y2="1835"/><line x1="597.9" y1="1870.9" x2="609.9" y2="1870.9"/></g>
<g stroke="#f0895b" stroke-width="1.5" opacity="1"><line x1="780.2" y1="1672.6" x2="780.2" y2="1739.4"/><line x1="774.2" y1="1672.6" x2="786.2" y2="1672.6"/><line x1="774.2" y1="1739.4" x2="786.2" y2="1739.4"/></g>
<g stroke="#f0895b" stroke-width="1.5" opacity="1"><line x1="780.2" y1="1810.3" x2="780.2" y2="1865.9"/><line x1="774.2" y1="1810.3" x2="786.2" y2="1810.3"/><line x1="774.2" y1="1865.9" x2="786.2" y2="1865.9"/></g>
<polyline points="251.3,1792.0 427.6,1800.0 603.9,1852.8 780.2,1838.2" fill="none" stroke="#000" stroke-width="1.6" stroke-dasharray="10 10.5"/>
<polyline points="251.3,1617.1 427.6,1812.4 603.9,1728.1 780.2,1706.0" fill="none" stroke="#000" stroke-width="1.6"/>
<circle cx="251.3" cy="1617.1" r="18" fill="#6eaa63"/>
<polygon points="251.3,1766.9 273.1,1804.6 229.6,1804.6" fill="#6eaa63"/>
<circle cx="427.6" cy="1812.4" r="18" fill="#b3d4ae"/>
<polygon points="427.6,1774.9 449.4,1812.6 405.9,1812.6" fill="#b3d4ae"/>
<circle cx="603.9" cy="1728.1" r="18" fill="#f5d78c"/>
<polygon points="603.9,1827.7 625.6,1865.4 582.1,1865.4" fill="#f5d78c"/>
<circle cx="780.2" cy="1706" r="18" fill="#f0895b"/>
<polygon points="780.2,1813.1 802.0,1850.8 758.5,1850.8" fill="#f0895b"/>
<text x="244.8" y="1575.7" font-size="47" font-weight="bold">a</text>
<text x="253.1" y="1839.5" font-size="47" font-weight="bold">a</text>
<text x="420.0" y="1766.9" font-size="47" font-weight="bold">c</text>
<text x="393.0" y="1851.2" font-size="47" font-weight="bold">a</text>
<text x="606.8" y="1708.4" font-size="47" font-weight="bold">b</text>
<text x="616.4" y="1845.8" font-size="47" font-weight="bold">b</text>
<text x="788.3" y="1684.2" font-size="47" font-weight="bold">b</text>
<text x="796.7" y="1836.6" font-size="47" font-weight="bold">b</text>
<circle cx="690.9" cy="1485.8" r="18.7" fill="#000"/>
<polygon points="689.5,1514.6 712.0,1553.6 667.0,1553.6" fill="#000"/>
<text x="716.0" y="1498.5" font-size="40">Meadow</text>
<text x="715.1" y="1546.1" font-size="40">Steppe</text>
<rect x="1049.9" y="1447.2" width="704.5999999999999" height="565.5999999999999" fill="none" stroke="#000" stroke-width="1.8"/>
<line x1="1038.9" y1="1541.1" x2="1049.9" y2="1541.1" stroke="#000" stroke-width="1.6"/>
<text x="1035.5" y="1556.7" font-size="48" text-anchor="end">0.04</text>
<line x1="1038.9" y1="1659.2" x2="1049.9" y2="1659.2" stroke="#000" stroke-width="1.6"/>
<text x="1035.5" y="1674.8" font-size="48" text-anchor="end">0.03</text>
<line x1="1038.9" y1="1777" x2="1049.9" y2="1777" stroke="#000" stroke-width="1.6"/>
<text x="1035.5" y="1792.6" font-size="48" text-anchor="end">0.02</text>
<line x1="1038.9" y1="1895" x2="1049.9" y2="1895" stroke="#000" stroke-width="1.6"/>
<text x="1035.5" y="1910.6" font-size="48" text-anchor="end">0.01</text>
<line x1="1038.9" y1="2012.8" x2="1049.9" y2="2012.8" stroke="#000" stroke-width="1.6"/>
<text x="1035.5" y="2028.5" font-size="48" text-anchor="end">0</text>
<line x1="1137.9750000000001" y1="2012.8" x2="1137.9750000000001" y2="2023.8" stroke="#000" stroke-width="1.6"/>
<line x1="1314.125" y1="2012.8" x2="1314.125" y2="2023.8" stroke="#000" stroke-width="1.6"/>
<line x1="1490.275" y1="2012.8" x2="1490.275" y2="2023.8" stroke="#000" stroke-width="1.6"/>
<line x1="1666.425" y1="2012.8" x2="1666.425" y2="2023.8" stroke="#000" stroke-width="1.6"/>
<text x="1084.4" y="2052.6" font-size="48">Non-</text>
<text x="1254.9" y="2052.6" font-size="48">Light</text>
<text x="1381.5" y="2052.6" font-size="48">Moderate</text>
<text x="1588.7" y="2052.6" font-size="48">Heavy</text>
<text x="1291.9" y="2100.0" font-size="48">degradation</text>
<text transform="translate(933.8,2086.1) rotate(-90)" font-size="48">Microbial metabolic quotient (qCO<tspan font-size="32" dy="10">2</tspan><tspan dy="-10">)</tspan></text>
<g stroke="#b3d4ae" stroke-width="1.5" opacity="1"><line x1="1314.2" y1="1667.2" x2="1314.2" y2="1724.8"/><line x1="1308.2" y1="1667.2" x2="1320.2" y2="1667.2"/><line x1="1308.2" y1="1724.8" x2="1320.2" y2="1724.8"/></g>
<g stroke="#b3d4ae" stroke-width="1.5" opacity="1"><line x1="1314.2" y1="1820" x2="1314.2" y2="1853.3"/><line x1="1308.2" y1="1820" x2="1320.2" y2="1820"/><line x1="1308.2" y1="1853.3" x2="1320.2" y2="1853.3"/></g>
<g stroke="#f5d78c" stroke-width="1.5" opacity="1"><line x1="1490.3" y1="1655.9" x2="1490.3" y2="1694.7"/><line x1="1484.3" y1="1655.9" x2="1496.3" y2="1655.9"/><line x1="1484.3" y1="1694.7" x2="1496.3" y2="1694.7"/></g>
<g stroke="#f0895b" stroke-width="1.5" opacity="1"><line x1="1666.5" y1="1531.5" x2="1666.5" y2="1602.5"/><line x1="1660.5" y1="1531.5" x2="1672.5" y2="1531.5"/><line x1="1660.5" y1="1602.5" x2="1672.5" y2="1602.5"/></g>
<polyline points="1138.0,1880.8 1314.2,1834.6 1490.3,1846.6 1666.5,1749.0" fill="none" stroke="#000" stroke-width="1.6" stroke-dasharray="10 10.5"/>
<polyline points="1138.0,1788.6 1314.2,1695.6 1490.3,1674.7 1666.5,1567.0" fill="none" stroke="#000" stroke-width="1.6"/>
<circle cx="1138" cy="1788.6" r="18" fill="#6eaa63"/>
<polygon points="1138.0,1855.7 1159.8,1893.4 1116.2,1893.4" fill="#6eaa63"/>
<circle cx="1314.2" cy="1695.6" r="18" fill="#b3d4ae"/>
<polygon points="1314.2,1809.5 1336.0,1847.2 1292.5,1847.2" fill="#b3d4ae"/>
<circle cx="1490.3" cy="1674.7" r="18" fill="#f5d78c"/>
<polygon points="1490.3,1821.5 1512.0,1859.2 1468.5,1859.2" fill="#f5d78c"/>
<circle cx="1666.5" cy="1567" r="18" fill="#f0895b"/>
<polygon points="1666.5,1723.9 1688.2,1761.6 1644.8,1761.6" fill="#f0895b"/>
<text x="1143.5" y="1771.9" font-size="47" font-weight="bold">c</text>
<text x="1140.6" y="1936.8" font-size="47" font-weight="bold">c</text>
<text x="1328.1" y="1687.6" font-size="47" font-weight="bold">b</text>
<text x="1334.4" y="1834.5" font-size="47" font-weight="bold">b</text>
<text x="1510.6" y="1712.6" font-size="47" font-weight="bold">b</text>
<text x="1508.9" y="1843.7" font-size="47" font-weight="bold">b</text>
<text x="1688.3" y="1597.4" font-size="47" font-weight="bold">a</text>
<text x="1682.1" y="1748.1" font-size="47" font-weight="bold">a</text>
<circle cx="1102.1" cy="1496" r="18.7" fill="#000"/>
<polygon points="1100.5,1523.8 1123.0,1562.8 1078.0,1562.8" fill="#000"/>
<text x="1125.9" y="1507.7" font-size="40">Meadow</text>
<text x="1125.3" y="1555.7" font-size="40">Steppe</text>
</svg>
</body></html>
